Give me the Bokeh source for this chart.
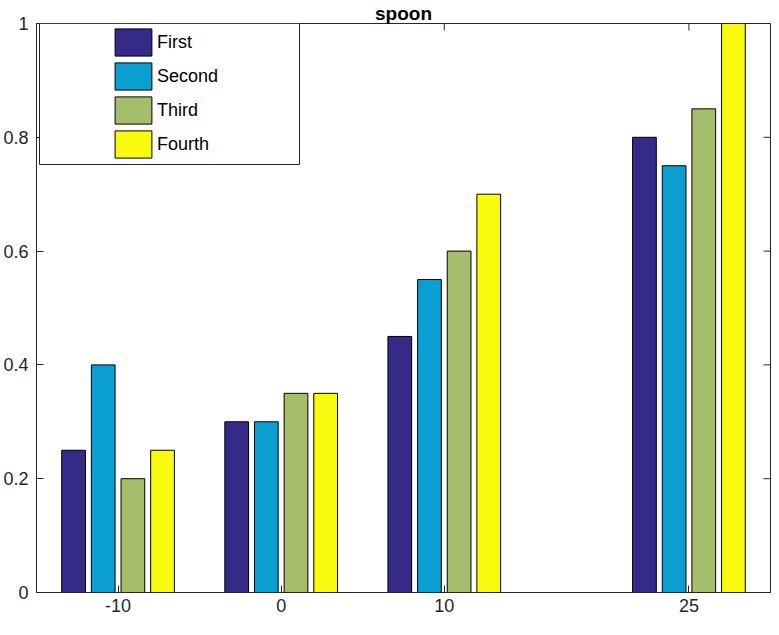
import numpy as np
from bokeh.plotting import figure
from bokeh.models import (ColumnDataSource, FixedTicker, Legend, LegendItem,
                          BoxAnnotation, Range1d)
from bokeh.transform import dodge
from bokeh.embed import file_html
from bokeh.resources import INLINE

# ---- data ----
title_text = "spoon"
x_positions = [-10, 0, 10, 25]
series_names = ["First", "Second", "Third", "Fourth"]
first = [0.25, 0.30, 0.45, 0.80]
second = [0.40, 0.30, 0.55, 0.75]
third = [0.20, 0.35, 0.60, 0.85]
fourth = [0.25, 0.35, 0.70, 1.00]
series_colors = ["#352a87", "#0a9fd0", "#a5be6b", "#f9fb0e"]
x_ticks = [-10, 0, 10, 25]
x_tick_labels = ["-10", "0", "10", "25"]
y_ticks = [0, 0.2, 0.4, 0.6, 0.8, 1]
y_tick_labels = ["0", "0.2", "0.4", "0.6", "0.8", "1"]

# ---- layout ----
W, H = 771, 619
B_LEFT, B_RIGHT, B_TOP, B_BOTTOM = 36, 1, 20, 27
FRAME_W = W - B_LEFT - B_RIGHT
FRAME_H = H - B_TOP - B_BOTTOM
AX = "#262626"
FONT = "Liberation Sans"
TICK_LEN = 7

source = ColumnDataSource(dict(x=x_positions, First=first, Second=second,
                               Third=third, Fourth=fourth))

p = figure(width=W, height=H, output_backend="svg", toolbar_location=None,
           x_range=Range1d(-15, 30), y_range=Range1d(0, 1),
           min_border_left=B_LEFT, min_border_right=B_RIGHT,
           min_border_top=B_TOP, min_border_bottom=B_BOTTOM)

spacing = min(np.diff(x_positions))
n = len(series_names)
group_w = min(0.8, n / (n + 1.5)) * spacing
slot = group_w / n
bar_w = 0.8 * slot

renderers = []
for i, (name, col) in enumerate(zip(series_names, series_colors)):
    off = (i - (n - 1) / 2) * slot
    r = p.vbar(x=dodge("x", off), top=name, width=bar_w, bottom=0, source=source,
               fill_color=col, line_color="black", line_width=1)
    renderers.append(r)

# title
p.title.text = title_text
p.title.align = "center"
p.title.text_font = FONT
p.title.text_font_size = "19px"
p.title.text_font_style = "bold"
p.title.text_color = "#000000"
p.title.standoff = 0

p.xgrid.visible = False
p.ygrid.visible = False
p.outline_line_color = AX
p.outline_line_width = 1
p.background_fill_color = "white"
p.border_fill_color = "white"

def style_axis(ax, ticks, labels, standoff):
    ax.ticker = FixedTicker(ticks=ticks)
    ax.axis_line_color = AX
    ax.axis_line_width = 1
    ax.major_tick_line_color = AX
    ax.major_tick_in = TICK_LEN
    ax.major_tick_out = 0
    ax.minor_tick_line_color = None
    ax.major_label_text_font = FONT
    ax.major_label_text_color = AX
    ax.major_label_text_font_size = "18px"
    ax.major_label_standoff = standoff
    ax.major_label_overrides = {t: l for t, l in zip(ticks, labels)}

style_axis(p.xaxis[0], x_ticks, x_tick_labels, 6)
style_axis(p.yaxis[0], y_ticks, y_tick_labels, 8)

# inward ticks on the top and right edges of the box
p.ray(x=x_ticks, y=[p.y_range.end] * len(x_ticks), length=TICK_LEN, length_units="screen",
      angle=-np.pi / 2, line_color=AX, line_width=1)
p.ray(x=[p.x_range.end] * len(y_ticks), y=y_ticks, length=TICK_LEN, length_units="screen",
      angle=np.pi, line_color=AX, line_width=1)

# legend frame
box = BoxAnnotation(left=3, right=263, top=FRAME_H - 3, bottom=FRAME_H - 144,
                    left_units="screen", right_units="screen",
                    top_units="screen", bottom_units="screen",
                    fill_color="white", fill_alpha=1.0,
                    line_color=AX, line_width=1, line_alpha=1.0)
p.add_layout(box)

GLYPH_H = 34
legend = Legend(items=[LegendItem(label=nm, renderers=[r]) for nm, r in zip(series_names, renderers)],
                location=(74, FRAME_H - 5 - GLYPH_H * n),
                glyph_width=46, glyph_height=GLYPH_H, spacing=0, padding=0, margin=0,
                label_standoff=1, label_text_font=FONT, label_text_font_size="18px",
                label_text_color="#000000", border_line_alpha=0, background_fill_alpha=0)
p.add_layout(legend, "center")

open("out.html", "w").write(file_html(p, INLINE))
